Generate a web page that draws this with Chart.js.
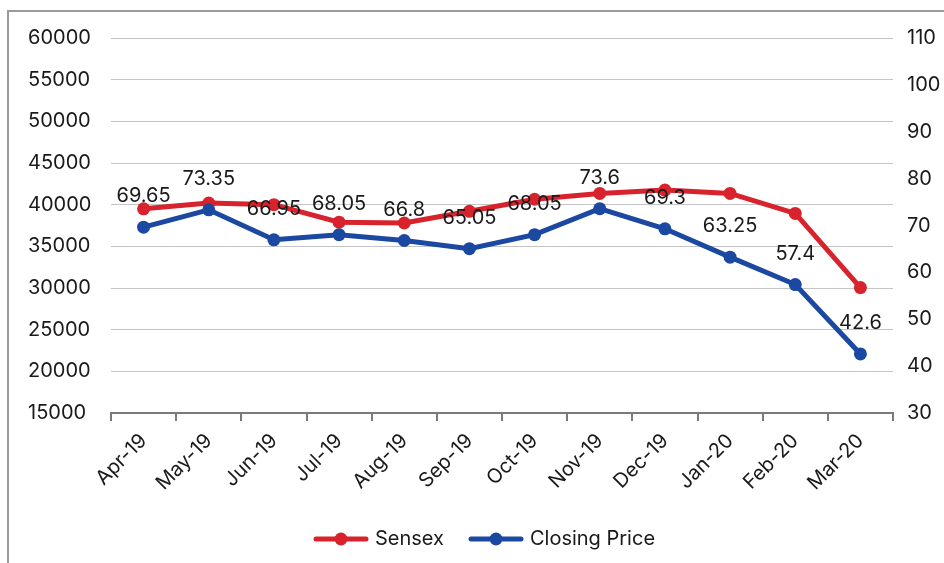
<!DOCTYPE html>
<html>
<head>
<meta charset="utf-8">
<script src="https://cdn.jsdelivr.net/npm/chart.js@4.4.1/dist/chart.umd.min.js"></script>
<style>
  html, body { margin: 0; padding: 0; background: #fff; overflow: hidden; }
  #wrap { position: relative; width: 944px; height: 563px; }
  #frame { position: absolute; left: 7px; top: 10px; width: 1000px; height: 700px;
           border: 2px solid #9a9a9a; box-sizing: border-box; }
  canvas { position: absolute; left: 0; top: 0; }
</style>
</head>
<body>
<div id="wrap">
  <div id="frame"></div>
  <canvas id="c" width="944" height="563"></canvas>
</div>
<script>
// Monthly series, April 2019 to March 2020
const months = ['Apr-19', 'May-19', 'Jun-19', 'Jul-19', 'Aug-19', 'Sep-19',
                'Oct-19', 'Nov-19', 'Dec-19', 'Jan-20', 'Feb-20', 'Mar-20'];
const sensex = [39500, 40200, 40000, 37900, 37800, 39200,
                40650, 41350, 41750, 41350, 38950, 30050];
const closingPrice = [69.65, 73.35, 66.95, 68.05, 66.8, 65.05,
                      68.05, 73.6, 69.3, 63.25, 57.4, 42.6];
const leftTicks = [15000, 20000, 25000, 30000, 35000, 40000, 45000, 50000, 55000, 60000];
const rightTicks = [30, 40, 50, 60, 70, 80, 90, 100, 110];

const RED = '#d8222c';
const BLUE = '#1b48a0';
const TEXT = '#1a1a1a';
const FONT = 'Inter';

// Legend swatch: a short line with a dot in the middle
function swatch(color) {
  const cv = document.createElement('canvas');
  cv.width = 56; cv.height = 14;
  const g = cv.getContext('2d');
  g.strokeStyle = color; g.lineWidth = 5; g.lineCap = 'round';
  g.beginPath(); g.moveTo(3, 7); g.lineTo(53, 7); g.stroke();
  g.fillStyle = color;
  g.beginPath(); g.arc(28, 7, 6.5, 0, Math.PI * 2); g.fill();
  return cv;
}

// Value labels above the closing-price points
const valueLabels = {
  id: 'valueLabels',
  afterDatasetsDraw(chart) {
    const ctx = chart.ctx;
    const meta = chart.getDatasetMeta(1);
    ctx.save();
    ctx.font = '20px ' + FONT;
    ctx.fillStyle = TEXT;
    ctx.textAlign = 'center';
    ctx.textBaseline = 'middle';
    meta.data.forEach((pt, i) => {
      ctx.fillText(String(closingPrice[i]), pt.x, pt.y - 31);
    });
    ctx.restore();
  }
};

const PAD_BOTTOM = 4;
const PLOT_BOTTOM = 413;
const plain = v => String(v);

new Chart(document.getElementById('c'), {
  type: 'line',
  data: {
    labels: months,
    datasets: [
      {
        label: 'Sensex',
        data: sensex,
        yAxisID: 'y',
        borderColor: RED,
        backgroundColor: RED,
        borderWidth: 5,
        pointRadius: 6.5,
        pointHoverRadius: 6.5,
        pointBorderWidth: 0,
        tension: 0,
        order: 1
      },
      {
        label: 'Closing Price',
        data: closingPrice,
        yAxisID: 'y1',
        borderColor: BLUE,
        backgroundColor: BLUE,
        borderWidth: 5,
        pointRadius: 6.5,
        pointHoverRadius: 6.5,
        pointBorderWidth: 0,
        tension: 0,
        order: 0
      }
    ]
  },
  options: {
    responsive: false,
    animation: false,
    devicePixelRatio: 1,
    layout: { padding: { left: 28, right: 0, top: 38, bottom: PAD_BOTTOM } },
    font: { family: FONT },
    plugins: {
      tooltip: { enabled: false },
      legend: {
        position: 'bottom',
        labels: {
          usePointStyle: true,
          pointStyleWidth: 48,
          padding: 28,
          color: TEXT,
          font: { family: FONT, size: 20 },
          sort: (a, b) => a.datasetIndex - b.datasetIndex,
          generateLabels(chart) {
            const items = Chart.defaults.plugins.legend.labels.generateLabels(chart);
            items.forEach(it => {
              it.pointStyle = swatch(chart.data.datasets[it.datasetIndex].borderColor);
            });
            return items;
          }
        }
      }
    },
    scales: {
      x: {
        offset: true,
        grid: {
          offset: true,
          drawOnChartArea: false,
          drawTicks: true,
          tickLength: 8,
          color: '#7a7a7a',
          lineWidth: 2
        },
        border: { display: true, color: '#7a7a7a', width: 2 },
        ticks: {
          color: TEXT,
          font: { family: FONT, size: 20 },
          maxRotation: 45,
          minRotation: 45,
          padding: 8,
          autoSkip: false
        },
        afterFit(scale) {
          const lg = scale.chart.legend;
          scale.height = scale.chart.height - PAD_BOTTOM - (lg ? lg.height : 0) - PLOT_BOTTOM;
        }
      },
      y: {
        position: 'left',
        min: leftTicks[0],
        max: leftTicks[leftTicks.length - 1],
        afterBuildTicks(scale) { scale.ticks = leftTicks.map(v => ({ value: v })); },
        grid: { color: '#c4c4c4', lineWidth: 1, drawTicks: false },
        border: { display: false },
        ticks: {
          color: TEXT,
          font: { family: FONT, size: 20 },
          crossAlign: 'far',
          padding: 0,
          callback: plain
        },
        afterFit(scale) { scale.width = 83; }
      },
      y1: {
        position: 'right',
        min: rightTicks[0],
        max: rightTicks[rightTicks.length - 1],
        afterBuildTicks(scale) { scale.ticks = rightTicks.map(v => ({ value: v })); },
        grid: { display: false, drawTicks: false },
        border: { display: false },
        ticks: {
          color: TEXT,
          font: { family: FONT, size: 20 },
          padding: 14,
          callback: plain
        },
        afterFit(scale) { scale.width = 51; }
      }
    }
  },
  plugins: [valueLabels]
});
</script>
</body>
</html>
